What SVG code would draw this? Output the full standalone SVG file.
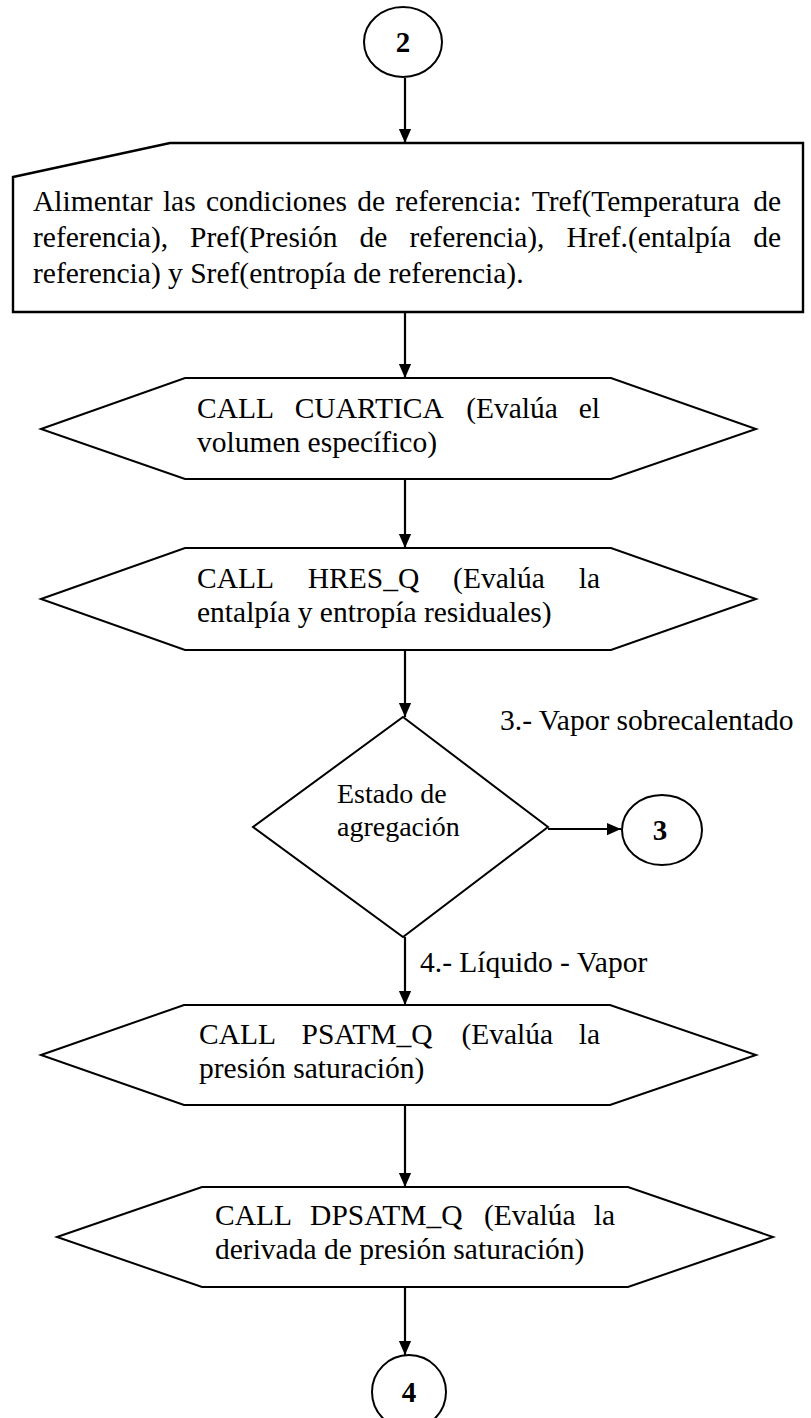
<svg xmlns="http://www.w3.org/2000/svg" width="811" height="1418" viewBox="0 0 811 1418">
  <style>
    .shape { fill: #ffffff; stroke: #000000; stroke-width: 2; stroke-linejoin: miter; }
    .conn { fill: none; stroke: #000000; stroke-width: 2.2; }
    .txt { font-family: "Liberation Serif", "Times New Roman", serif; font-size: 29.5px; fill: #000000; }
    .small { font-size: 28px; }
    .num { font-family: "Liberation Serif", "Times New Roman", serif; font-size: 29px; font-weight: bold; fill: #000000; text-anchor: middle; }
    .end { text-anchor: end; }
  </style>
  <defs>
    <marker id="arrow" markerUnits="userSpaceOnUse" markerWidth="14" markerHeight="16" viewBox="0 0 16 14" refX="16" refY="7" orient="auto">
      <path d="M0,0 L16,7 L0,14 Z" fill="#000000"/>
    </marker>
  </defs>

  <!-- connectors and their labels -->
  <g id="connectors">
    <line class="conn" x1="405" y1="78" x2="405" y2="143" marker-end="url(#arrow)"/>
    <line class="conn" x1="405" y1="312" x2="405" y2="378" marker-end="url(#arrow)"/>
    <line class="conn" x1="405" y1="479" x2="405" y2="548" marker-end="url(#arrow)"/>
    <line class="conn" x1="405" y1="650" x2="405" y2="717" marker-end="url(#arrow)"/>
    <line class="conn" x1="548" y1="829" x2="621" y2="829" marker-end="url(#arrow)"/>
    <line class="conn" x1="405" y1="937" x2="405" y2="1005" marker-end="url(#arrow)"/>
    <line class="conn" x1="405" y1="1105" x2="405" y2="1187" marker-end="url(#arrow)"/>
    <line class="conn" x1="405" y1="1287" x2="405" y2="1355" marker-end="url(#arrow)"/>
    <text class="txt" x="500" y="730">3.- Vapor sobrecalentado</text>
    <text class="txt" x="420" y="972">4.- Líquido - Vapor</text>
  </g>

  <!-- off-page connector 2 -->
  <g id="node-c2">
    <ellipse class="shape" cx="403" cy="42" rx="39" ry="35"/>
    <text class="num" x="403" y="52">2</text>
  </g>

  <!-- manual input of reference conditions -->
  <g id="node-input">
    <polygon class="shape" style="stroke-width:2.4" points="13,177 170,143 803,143 803,312 13,312"/>
    <text class="txt" y="211">
      <tspan x="33">Alimentar</tspan><tspan x="162.9">las</tspan><tspan x="206">condiciones</tspan><tspan x="357.2">de</tspan><tspan x="395.3">referencia:</tspan><tspan x="531.7">Tref(Temperatura</tspan>
    </text>
    <text class="txt end" x="781" y="211">de</text>
    <text class="txt" y="247">
      <tspan x="33">referencia),</tspan><tspan x="190.1">Pref(Presión</tspan><tspan x="359.6">de</tspan><tspan x="409.4">referencia),</tspan><tspan x="566.5">Href.(entalpía</tspan>
    </text>
    <text class="txt end" x="781" y="247">de</text>
    <text class="txt" x="33" y="283">referencia) y Sref(entropía de referencia).</text>
  </g>

  <!-- CALL CUARTICA -->
  <g id="node-cuartica">
    <polygon class="shape" points="41,429 185,378 611,378 756,429 611,479 185,479"/>
    <text class="txt" y="418">
      <tspan x="197">CALL</tspan><tspan x="294.7">CUARTICA</tspan><tspan x="466.2">(Evalúa</tspan>
    </text>
    <text class="txt end" x="600" y="418">el</text>
    <text class="txt" x="197" y="452">volumen específico)</text>
  </g>

  <!-- CALL HRES_Q -->
  <g id="node-hres">
    <polygon class="shape" points="41,599 185,548 611,548 756,599 611,650 185,650"/>
    <text class="txt" y="588">
      <tspan x="197">CALL</tspan><tspan x="307.8">HRES_Q</tspan><tspan x="453.1">(Evalúa</tspan>
    </text>
    <text class="txt end" x="600" y="588">la</text>
    <text class="txt" x="197" y="622">entalpía y entropía residuales)</text>
  </g>

  <!-- decision: Estado de agregación -->
  <g id="node-estado">
    <polygon class="shape" points="403,717 548,827 403,937 253,827"/>
    <text class="txt small" x="337" y="803">Estado de</text>
    <text class="txt small" x="337" y="836">agregación</text>
  </g>

  <!-- off-page connector 3 -->
  <g id="node-c3">
    <ellipse class="shape" cx="662" cy="830" rx="40" ry="35"/>
    <text class="num" x="660" y="840">3</text>
  </g>

  <!-- CALL PSATM_Q -->
  <g id="node-psatm">
    <polygon class="shape" points="41,1055 184,1005 610,1005 756,1055 610,1105 184,1105"/>
    <text class="txt" y="1044">
      <tspan x="199">CALL</tspan><tspan x="301.5">PSATM_Q</tspan><tspan x="461.4">(Evalúa</tspan>
    </text>
    <text class="txt end" x="600" y="1044">la</text>
    <text class="txt" x="199" y="1078">presión saturación)</text>
  </g>

  <!-- CALL DPSATM_Q -->
  <g id="node-dpsatm">
    <polygon class="shape" points="57,1237 202,1187 628,1187 773,1237 628,1287 202,1287"/>
    <text class="txt" y="1225">
      <tspan x="215">CALL</tspan><tspan x="310.1">DPSATM_Q</tspan><tspan x="483.9">(Evalúa</tspan>
    </text>
    <text class="txt end" x="615" y="1225">la</text>
    <text class="txt" x="215" y="1259">derivada de presión saturación)</text>
  </g>

  <!-- off-page connector 4 -->
  <g id="node-c4">
    <ellipse class="shape" cx="409" cy="1392" rx="37" ry="37"/>
    <text class="num" x="409" y="1402">4</text>
  </g>
</svg>
